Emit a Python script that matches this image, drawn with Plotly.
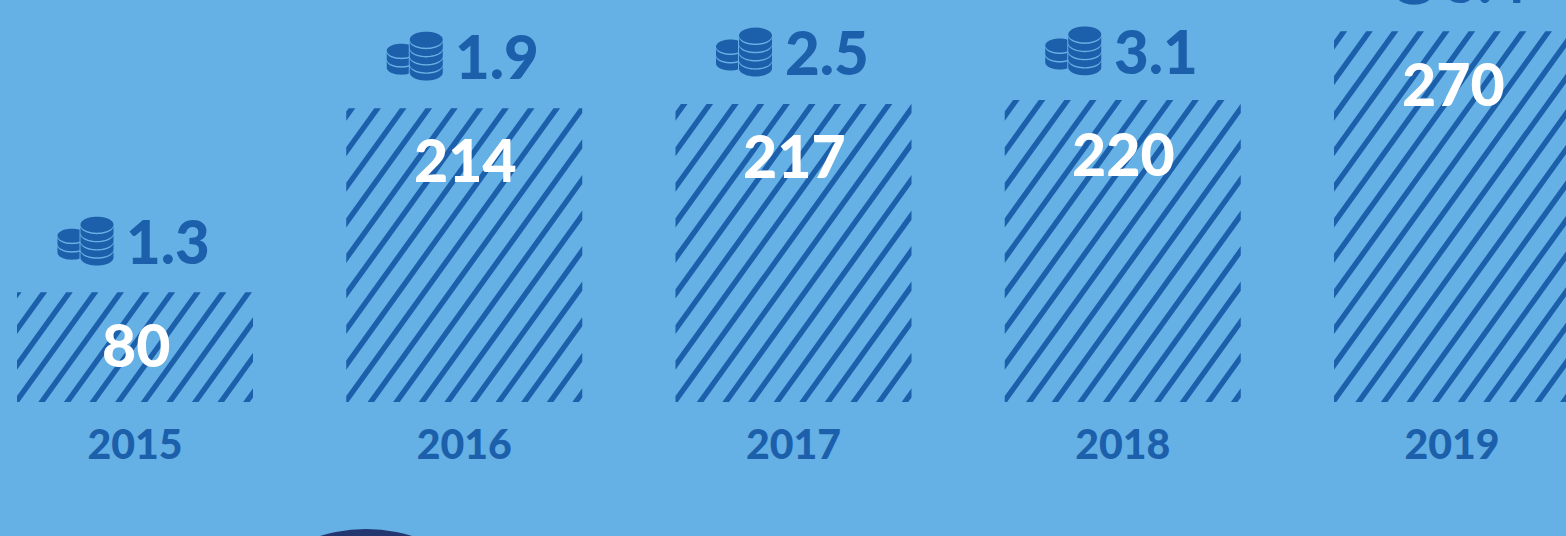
import numpy as np
import plotly.graph_objects as go

years = [2015, 2016, 2017, 2018, 2019]
bar_values = [80, 214, 217, 220, 270]
coin_values = ["1.3", "1.9", "2.5", "3.1", "3.4"]

BG = "#65B0E4"
DARK = "#1C5FAB"
NAVY = "#24366F"
FONT = "Lato, 'Open Sans', sans-serif"

W, H = 1566, 536
PX_X = 329.25      # px per year
PX_Y = 1.373       # px per value unit
BAR_W = 236
BASE_PX = 402
CX0 = 135


def clip_poly(pts, xmin, xmax, ymin, ymax):
    edges = [(0, xmin, 1), (0, xmax, -1), (1, ymin, 1), (1, ymax, -1)]
    for axis, lim, sign in edges:
        out = []
        for i in range(len(pts)):
            a, b = pts[i], pts[(i + 1) % len(pts)]
            ina = (a[axis] - lim) * sign >= 0
            inb = (b[axis] - lim) * sign >= 0
            if ina:
                out.append(a)
            if ina != inb:
                t = (lim - a[axis]) / (b[axis] - a[axis])
                out.append((a[0] + t * (b[0] - a[0]), a[1] + t * (b[1] - a[1])))
        pts = out
        if not pts:
            break
    return pts


def hatch(year, value):
    """Diagonal stripes clipped to a bar, derived from its year and value."""
    h = value * PX_Y
    slope, pitch, sw, phase = 0.72, 25.6, 6.6, 21.3
    xs, ys = [], []
    k0 = int(np.floor((-slope * h - sw - phase) / pitch)) - 1
    k1 = int(np.ceil((BAR_W - phase) / pitch)) + 1
    for k in range(k0, k1):
        u = phase + k * pitch
        quad = [(u, 0), (u + sw, 0), (u + sw + slope * h, h), (u + slope * h, h)]
        poly = clip_poly(quad, 0, BAR_W, 0, h)
        if len(poly) < 3:
            continue
        for px, py in poly + [poly[0]]:
            xs.append(year + (px - BAR_W / 2) / PX_X)
            ys.append(py / PX_Y)
        xs.append(None)
        ys.append(None)
    return xs, ys


def coin_path(dy):
    """Coin-stack icon, in pixels relative to a bar's top centre (y up)."""
    t = np.linspace(0, np.pi, 25)

    def to_path(points):
        return "M" + "L".join(f"{x:.2f},{y + dy:.2f}" for x, y in points) + "Z"

    def stack(cx, top_c, rx, ry, centres, thick, xmax):
        parts = []
        ell = np.linspace(0, 2 * np.pi, 49)[:-1]
        parts.append(to_path([(min(cx + rx * np.cos(a), xmax), top_c + ry * np.sin(a)) for a in ell]))
        for c in centres:
            upper = [(min(cx - rx * np.cos(a), xmax), c - ry * np.sin(a)) for a in t]
            lower = [(min(cx + rx * np.cos(a), xmax), c - thick - ry * np.sin(a)) for a in t]
            parts.append(to_path(upper + lower))
        return " ".join(parts)

    big = stack(-38, 66.5, 16.5, 8, [65, 56.8, 48.6, 40.4], 6.8, 99)
    small = stack(-63, 55.5, 14.5, 7, [54, 45.5], 7, -55.5)
    return big + " " + small


fig = go.Figure()

fig.add_trace(go.Bar(
    x=years, y=bar_values, width=BAR_W / PX_X,
    marker=dict(color="rgba(0,0,0,0)", line=dict(width=0)),
    hoverinfo="x+y", showlegend=False,
))

for yr, val in zip(years, bar_values):
    xs, ys = hatch(yr, val)
    fig.add_trace(go.Scatter(
        x=xs, y=ys, mode="lines", fill="toself", fillcolor=DARK,
        line=dict(width=0, color=DARK), hoverinfo="skip", showlegend=False,
    ))

label_nudge = [0, 1, 1, -2, 0]
shapes = []
annotations = []
for yr, val, coin, dy in zip(years, bar_values, coin_values, label_nudge):
    shapes.append(dict(
        type="path", path=coin_path(dy + 1), xref="x", yref="y",
        xsizemode="pixel", ysizemode="pixel", xanchor=yr, yanchor=val,
        fillcolor=DARK, line=dict(width=0), layer="above",
    ))
    annotations.append(dict(
        x=yr, y=val, xref="x", yref="y", text=coin, showarrow=False,
        xanchor="center", yanchor="middle", xshift=33, yshift=51 + dy,
        font=dict(family=FONT, size=60, color=DARK, weight=900),
    ))
    annotations.append(dict(
        x=yr, y=val, xref="x", yref="y", text=str(val), showarrow=False,
        xanchor="center", yanchor="middle", xshift=1, yshift=-52 + dy,
        font=dict(family=FONT, size=59, color="white", weight=900),
    ))

# navy disc just entering the bottom edge of the frame
disc_r, disc_cx, disc_top = 155, 366, 529
shapes.append(dict(
    type="circle", xref="paper", yref="paper",
    x0=(disc_cx - disc_r) / W, x1=(disc_cx + disc_r) / W,
    y0=(H - disc_top - 2 * disc_r) / H, y1=(H - disc_top) / H,
    fillcolor=NAVY, line=dict(width=0), layer="above",
))

fig.update_layout(
    width=W, height=H, margin=dict(l=0, r=0, t=0, b=0),
    paper_bgcolor=BG, plot_bgcolor=BG, showlegend=False,
    shapes=shapes, annotations=annotations,
    xaxis=dict(
        range=[2015 - CX0 / PX_X, 2015 + (W - CX0) / PX_X],
        tickmode="array", tickvals=years, ticktext=[str(y) for y in years],
        tickfont=dict(family=FONT, size=41, color=DARK, weight=900),
        ticks="outside", ticklen=7, tickcolor="rgba(0,0,0,0)",
        showgrid=False, zeroline=False, showline=False,
        anchor="free", position=(H - BASE_PX) / H,
    ),
    yaxis=dict(
        range=[(BASE_PX - H) / PX_Y, BASE_PX / PX_Y],
        visible=False, showgrid=False, zeroline=False,
    ),
)

fig.write_html(
    "out.html",
    config=dict(displayModeBar=False),
    post_script="document.body.style.margin='0';document.body.style.overflow='hidden';",
)
